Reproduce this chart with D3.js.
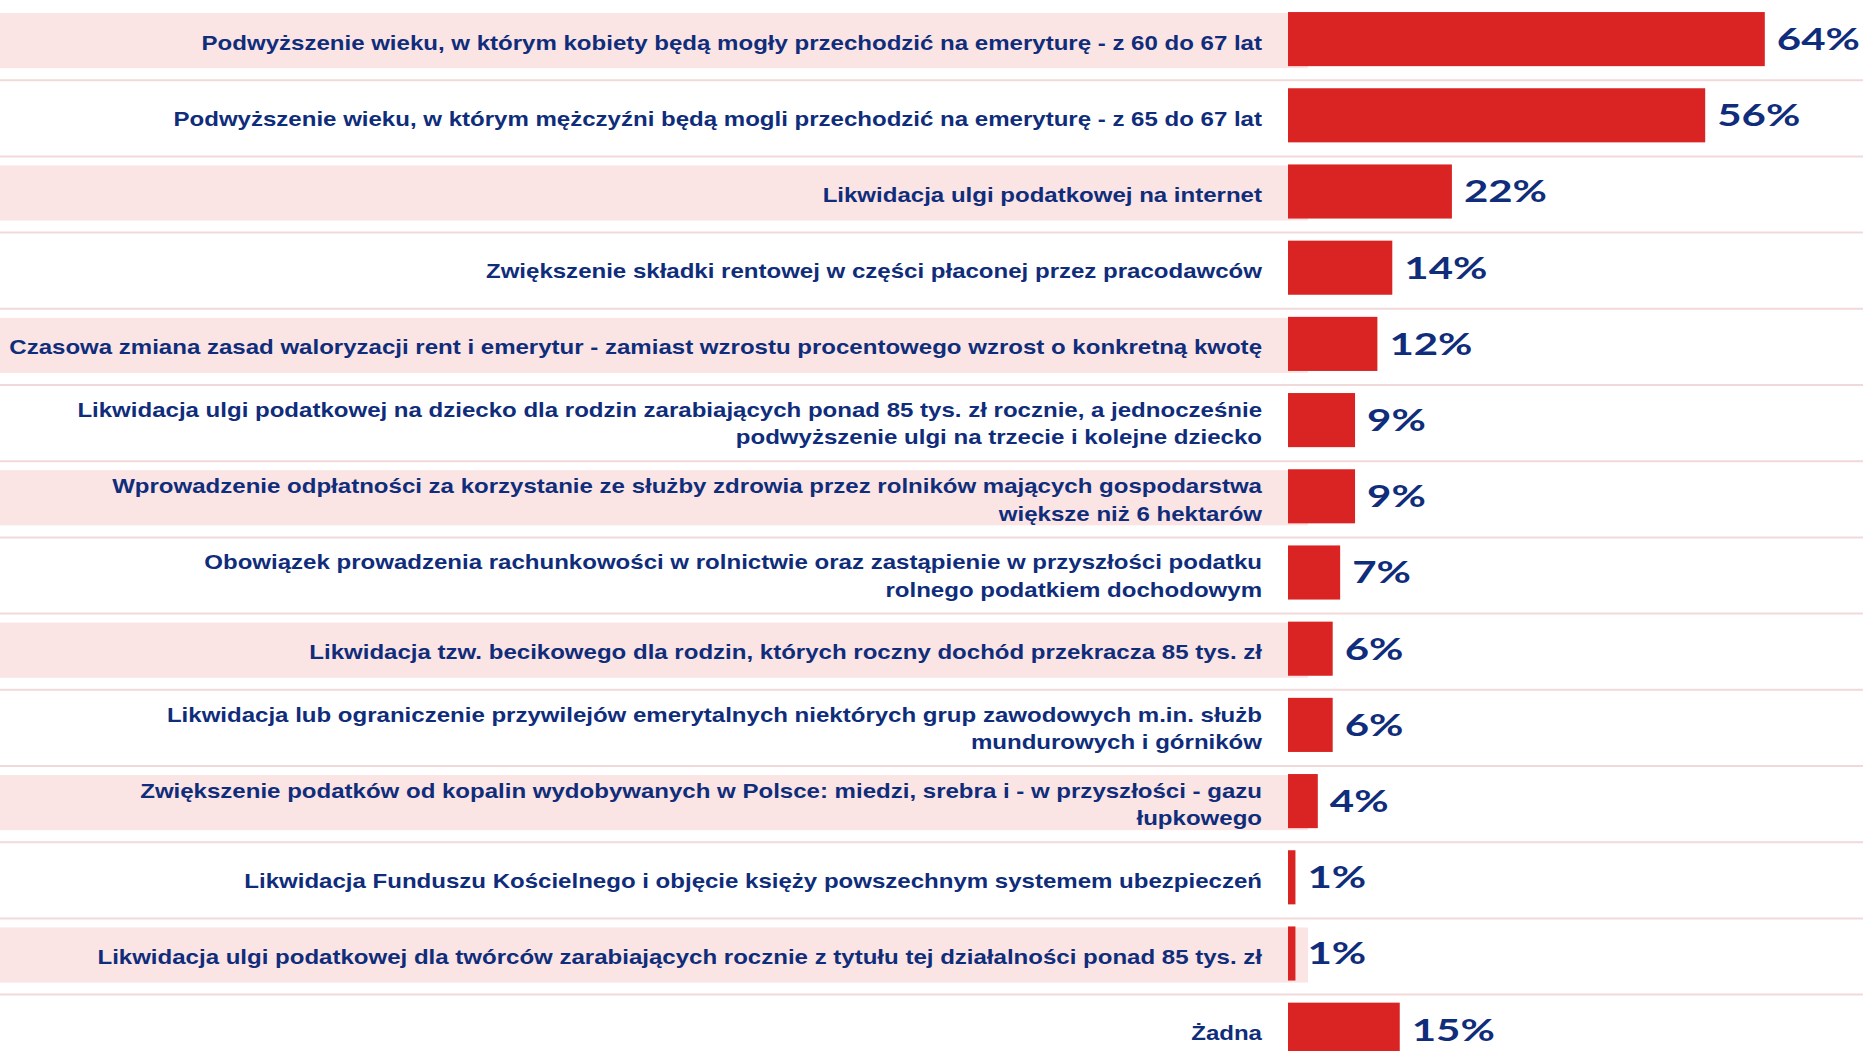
<!DOCTYPE html>
<html>
<head>
<meta charset="utf-8">
<title>Reforma - bar chart</title>
<script src="https://cdn.jsdelivr.net/npm/d3@7"></script>
<style>
  body { margin: 0; background: #fff; overflow: hidden; }
  svg { display: block; }
  .label { font-family: "Liberation Sans", Arial, sans-serif; font-weight: bold; font-size: 21px; fill: #0f2d7a; }
  .value { font-family: Lato, sans-serif; font-weight: bold; font-size: 30px; fill: #0f2d7a; }
</style>
</head>
<body>
<script>
// categories, line breaks as in the original
var categories = [
  "Podwyższenie wieku, w którym kobiety będą mogły przechodzić na emeryturę - z 60 do 67 lat",
  "Podwyższenie wieku, w którym mężczyźni będą mogli przechodzić na emeryturę - z 65 do 67 lat",
  "Likwidacja ulgi podatkowej na internet",
  "Zwiększenie składki rentowej w części płaconej przez pracodawców",
  "Czasowa zmiana zasad waloryzacji rent i emerytur - zamiast wzrostu procentowego wzrost o konkretną kwotę",
  "Likwidacja ulgi podatkowej na dziecko dla rodzin zarabiających ponad 85 tys. zł rocznie, a jednocześnie\npodwyższenie ulgi na trzecie i kolejne dziecko",
  "Wprowadzenie odpłatności za korzystanie ze służby zdrowia przez rolników mających gospodarstwa\nwiększe niż 6 hektarów",
  "Obowiązek prowadzenia rachunkowości w rolnictwie oraz zastąpienie w przyszłości podatku\nrolnego podatkiem dochodowym",
  "Likwidacja tzw. becikowego dla rodzin, których roczny dochód przekracza 85 tys. zł",
  "Likwidacja lub ograniczenie przywilejów emerytalnych niektórych grup zawodowych m.in. służb\nmundurowych i górników",
  "Zwiększenie podatków od kopalin wydobywanych w Polsce: miedzi, srebra i - w przyszłości - gazu\nłupkowego",
  "Likwidacja Funduszu Kościelnego i objęcie księży powszechnym systemem ubezpieczeń",
  "Likwidacja ulgi podatkowej dla twórców zarabiających rocznie z tytułu tej działalności ponad 85 tys. zł",
  "Żadna"
];
var values = [64, 56, 22, 14, 12, 9, 9, 7, 6, 6, 4, 1, 1, 15];

var width = 1863, height = 1051,
    barLeft = 1288, labelRight = 1262;

var svg = d3.select('body').append('svg')
    .attr('width', width)
    .attr('height', height);

var x = d3.scaleLinear().domain([0, 100]).range([0, 745]);
var y = d3.scaleBand()
    .domain(d3.range(categories.length))
    .range([1, 1 + categories.length * 76.2])
    .paddingInner(0.29)
    .paddingOuter(0.145);

var gap = y.step() - y.bandwidth();

// pink stripes on every other row
svg.append('g').selectAll('rect')
    .data(d3.range(categories.length).filter(function (i) { return i % 2 === 0; }))
    .enter().append('rect')
    .attr('x', 0)
    .attr('y', function (i) { return y(i) + 1; })
    .attr('width', barLeft + 20)
    .attr('height', y.bandwidth() + 1)
    .attr('fill', '#fbe4e4');

// row separators
svg.append('g').selectAll('line')
    .data(d3.range(1, categories.length))
    .enter().append('line')
    .attr('x1', 0)
    .attr('x2', width)
    .attr('y1', function (i) { return y(i) - gap / 2 + 3; })
    .attr('y2', function (i) { return y(i) - gap / 2 + 3; })
    .attr('stroke', '#f1d9d9')
    .attr('stroke-width', 2);

// bars
svg.append('g').selectAll('rect')
    .data(values)
    .enter().append('rect')
    .attr('x', barLeft)
    .attr('y', function (d, i) { return y(i); })
    .attr('width', function (d) { return x(d); })
    .attr('height', y.bandwidth())
    .attr('fill', '#da2323');

// category labels
var lineH = 27.5;
svg.append('g').selectAll('g')
    .data(categories)
    .enter().append('g')
    .attr('transform', function (d, i) {
        return 'translate(' + labelRight + ',' + (y(i) + y.bandwidth() / 2 + 3) + ')';
    })
    .each(function (d, i) {
        var lines = d.split('\n');
        var t = d3.select(this).append('text')
            .attr('class', 'label')
            .attr('text-anchor', 'end')
            .attr('transform', 'scale(1.145,1)');
        lines.forEach(function (ln, k) {
            t.append('tspan')
                .attr('x', 0)
                .attr('y', (k - (lines.length - 1) / 2) * lineH)
                .attr('dy', '0.36em')
                .text(ln);
        });
    });

// value labels
svg.append('g').selectAll('text')
    .data(values)
    .enter().append('text')
    .attr('class', 'value')
    .attr('transform', function (d, i) {
        return 'translate(' + (barLeft + x(d) + 12) + ',' + (y(i) + y.bandwidth() / 2) + ') scale(1.4,1)';
    })
    .attr('dy', '0.36em')
    .text(function (d) { return d + '%'; });
</script>
</body>
</html>
